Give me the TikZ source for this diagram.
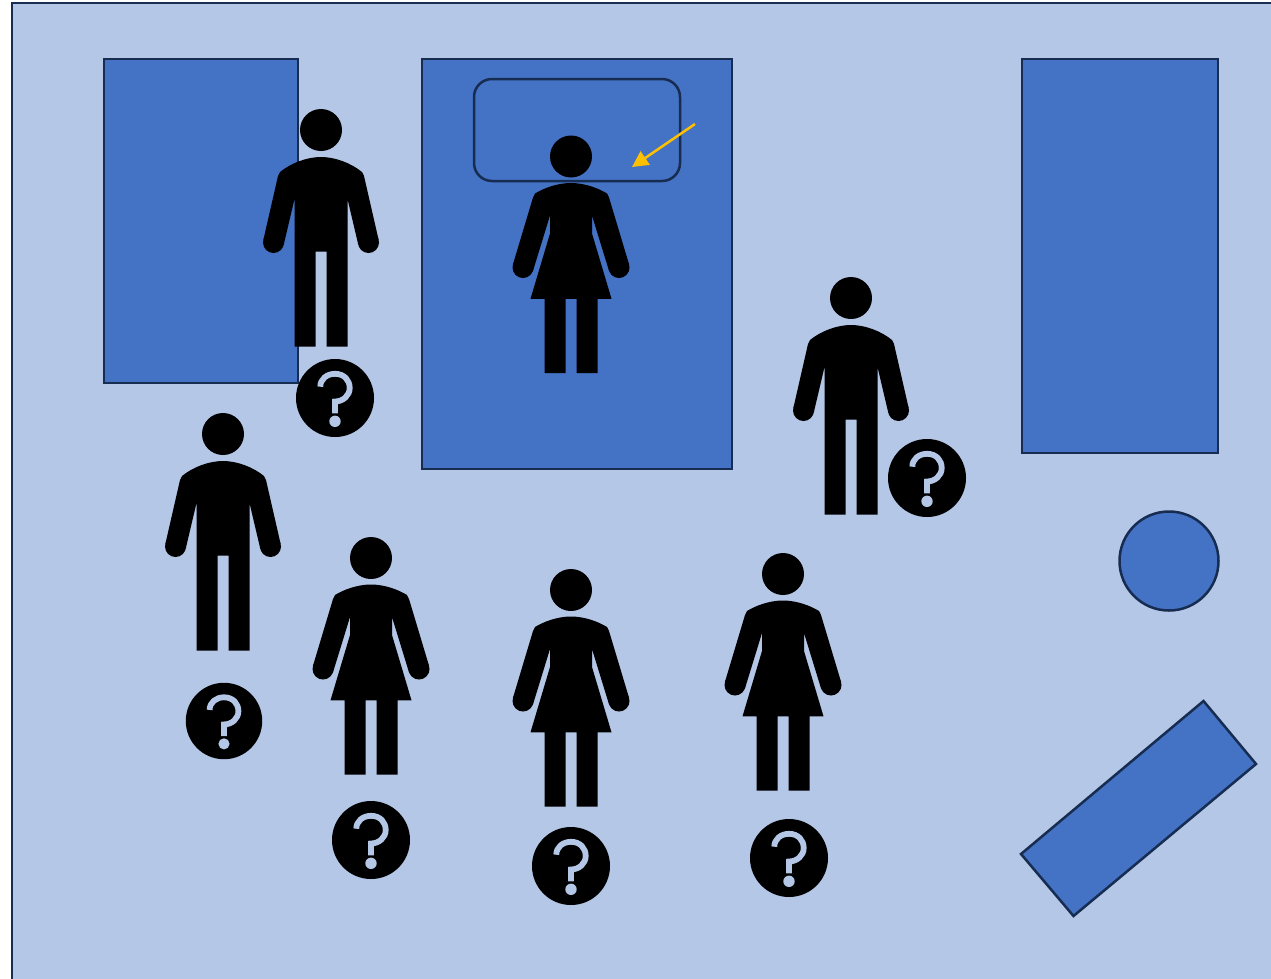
\documentclass[tikz,border=0pt]{standalone}
\usetikzlibrary{arrows.meta}
\definecolor{paleblue}{HTML}{B4C7E7}
\definecolor{midblue}{HTML}{4472C4}
\definecolor{edgeblue}{HTML}{172C51}
\definecolor{gold}{HTML}{FFC000}
\tikzset{
  furniture/.style={fill=midblue,draw=edgeblue,line width=2.5pt},
  manfig/.pic={
    \fill[black] (0,0) circle[radius=21];
    \fill[black] (0,27) .. controls (14,27) and (30,33) .. (41,42) -- (43,46) -- (57.7,110.2)
      -- (37.3,114.8) -- (26.5,69) -- (26.5,216.5) -- (5.5,216.5) -- (5.5,121.5) -- (-5.5,121.5)
      -- (-5.5,216.5) -- (-26.5,216.5) -- (-26.5,69) -- (-37.3,114.8) -- (-57.7,110.2) -- (-43,46)
      -- (-41,42) .. controls (-30,33) and (-14,27) .. (0,27) -- cycle;
    \fill[black] (47.5,112.5) circle[radius=10.5];
    \fill[black] (-47.5,112.5) circle[radius=10.5];
  },
  womanfig/.pic={
    \fill[black] (0,0) circle[radius=21];
    \fill[black] (0,26.5) .. controls (14,26.5) and (28,32) .. (36,37) -- (38,41) -- (58.1,108)
      -- (37.9,114) -- (21,59) -- (21,77) -- (40.5,142.3) -- (26.5,142.3) -- (26.5,216.5) -- (5.5,216.5)
      -- (5.5,142.3) -- (-5.5,142.3) -- (-5.5,216.5) -- (-26.5,216.5) -- (-26.5,142.3) -- (-40.5,142.3)
      -- (-21,77) -- (-21,59) -- (-37.9,114) -- (-58.1,108) -- (-38,41) -- (-36,37)
      .. controls (-28,32) and (-14,26.5) .. (0,26.5) -- cycle;
    \fill[black] (48,111) circle[radius=10.5];
    \fill[black] (-48,111) circle[radius=10.5];
  },
  badge/.pic={
    \fill[black] (0,0) circle[radius=39];
    \draw[paleblue,line width=5.8pt] (-14.7,-11.3) .. controls (-14.7,-19) and (-8,-24.2) .. (0,-24.2)
      .. controls (9,-24.2) and (14.7,-18) .. (14.7,-10) .. controls (14.7,-2.5) and (8,3.5) .. (0,3.5) -- (0,15.3);
    \fill[paleblue] (0,23.3) circle[radius=5.7];
  }
}
\begin{document}
\begin{tikzpicture}[x=1pt,y=-1pt]
\useasboundingbox (0,0) rectangle (1271,978);
\clip (0,0) rectangle (1271,978);
\fill[white] (0,0) rectangle (1271,978);
\fill[paleblue,draw=edgeblue,line width=2.5pt] (12,3) rectangle (1290,1000);
\draw[furniture] (104,59) rectangle (298,383);
\draw[furniture] (422,59) rectangle (732,469);
\draw[furniture] (1022,59) rectangle (1218,453);
\draw[edgeblue,line width=2.5pt,rounded corners=18pt] (474,79) rectangle (680,181);
\draw[furniture] (1169,561) circle[radius=49.5];
\draw[furniture] (1203.5,701) -- (1256,764) -- (1073.5,916) -- (1021,854) -- cycle;
\coordinate (arrowstart) at (695,124);
\coordinate (arrowtip) at (632,167);
\draw[gold,line width=2.5pt,-{Triangle[length=16pt,width=16pt]}] (arrowstart) -- (arrowtip);
\pic at (321,130) {manfig};
\pic at (851,298) {manfig};
\pic at (223,434) {manfig};
\pic at (571,156.5) {womanfig};
\pic at (371,558) {womanfig};
\pic at (571,590) {womanfig};
\pic at (783,574) {womanfig};
\pic at (335,398) {badge};
\pic at (927,478) {badge};
\pic[scale=0.98] at (224,721) {badge};
\pic at (371,840) {badge};
\pic at (571,866) {badge};
\pic at (789,858) {badge};
\end{tikzpicture}
\end{document}
